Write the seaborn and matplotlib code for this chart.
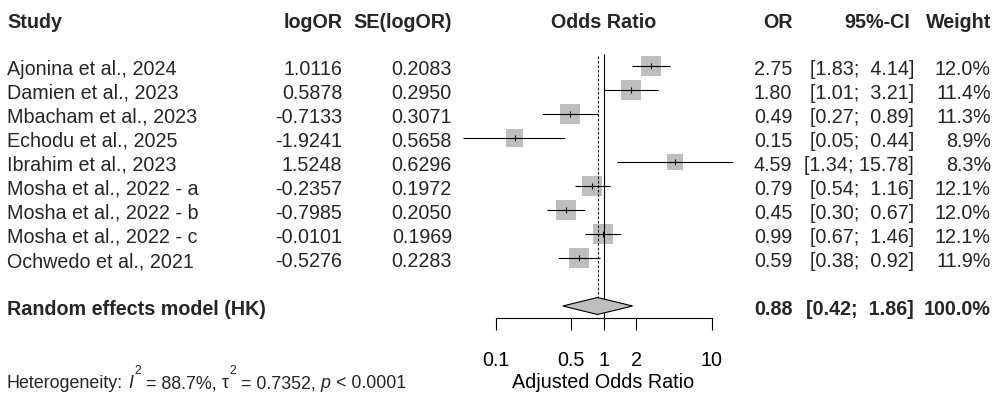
import numpy as np
import pandas as pd
import matplotlib
matplotlib.use("Agg")
import matplotlib.pyplot as plt
import seaborn as sns
from matplotlib.transforms import blended_transform_factory, IdentityTransform

# ---------------- data ----------------
studies = ["Ajonina et al., 2024", "Damien et al., 2023", "Mbacham et al., 2023",
           "Echodu et al., 2025", "Ibrahim et al., 2023", "Mosha et al., 2022 - a",
           "Mosha et al., 2022 - b", "Mosha et al., 2022 - c", "Ochwedo et al., 2021"]
log_or = [1.0116, 0.5878, -0.7133, -1.9241, 1.5248, -0.2357, -0.7985, -0.0101, -0.5276]
se_log_or = [0.2083, 0.2950, 0.3071, 0.5658, 0.6296, 0.1972, 0.2050, 0.1969, 0.2283]
odds_ratio = [2.75, 1.80, 0.49, 0.15, 4.59, 0.79, 0.45, 0.99, 0.59]
ci_low = [1.83, 1.01, 0.27, 0.05, 1.34, 0.54, 0.30, 0.67, 0.38]
ci_high = [4.14, 3.21, 0.89, 0.44, 15.78, 1.16, 0.67, 1.46, 0.92]
weights = [12.0, 11.4, 11.3, 8.9, 8.3, 12.1, 12.0, 12.1, 11.9]

summary_label = "Random effects model (HK)"
summary_or = 0.88
summary_low = 0.42
summary_high = 1.86
summary_weight = 100.0

headers = ["Study", "logOR", "SE(logOR)", "Odds Ratio", "OR", "95%-CI", "Weight"]
tick_values = [0.1, 0.5, 1, 2, 10]
tick_labels = ["0.1", "0.5", "1", "2", "10"]
x_label = "Adjusted Odds Ratio"
# heterogeneity statement pieces: (text, style)  style: n=normal, i=italic, s=superscript
het_pieces = [("Heterogeneity:", "n"), ("I", "i"), ("2", "s"), ("= 88.7%,", "n"),
              ("\u03c4", "n"), ("2", "s"), ("= 0.7352,", "n"), ("p", "i"), ("< 0.0001", "n")]

# ---------------- style ----------------
sns.set_style("white")
plt.rcParams['font.family'] = ['Liberation Sans', 'DejaVu Sans']

FS = 14.2
FS_HET = 12.9
FS_SUP = 8.7
GRAY = "#BEBEBE"
LW = 0.8

W, H = 998, 400
fig = plt.figure(figsize=(W / 100, H / 100), dpi=100)
ax = fig.add_axes([0, 0, 1, 1])

# x: log scale, 1 at pixel 603.5, 108 px per decade
one_px, px_dec = 603.5, 108.0
ax.set_xscale('log')
ax.set_xlim(10 ** (-one_px / px_dec), 10 ** ((W - one_px) / px_dec))
# y: row units, row 0 at pixel 66, 24 px per row
row0_px, row_h = 66.0, 24.0
ax.set_ylim((H - row0_px) / row_h, -row0_px / row_h)

n = len(studies)
rows = np.arange(n)
sum_row = n + 1
axis_row = sum_row + 0.5
base_off = 9.0 / row_h
header_row = (28.3 - row0_px) / row_h
bottom_row = (388.3 - row0_px) / row_h

df = pd.DataFrame({"study": studies, "or": odds_ratio, "lo": ci_low, "hi": ci_high,
                   "w": weights, "row": rows})

# squares (area proportional to weight)
k = (20 * 0.72) ** 2 / 12.0
sns.scatterplot(data=df, x="or", y="row", size="w",
                sizes=(k * min(weights), k * max(weights)),
                size_norm=(min(weights), max(weights)),
                marker="s", color=GRAY, linewidth=0, legend=False, ax=ax, zorder=2)
# confidence intervals
ax.hlines(df["row"], df["lo"], df["hi"], color="black", lw=LW, zorder=3)
ax.vlines(df["or"], df["row"] - 3.2 / row_h, df["row"] + 3.2 / row_h, color="black", lw=LW, zorder=3)

# reference lines
ax.vlines(1, -0.5, axis_row, color="black", lw=LW, zorder=3)
dh = 8.5 / row_h
ax.vlines(summary_or, -0.4, sum_row - dh, color="black", lw=LW, linestyles=(0, (2.4, 1.6)), zorder=3)

# summary diamond
ax.fill([summary_low, summary_or, summary_high, summary_or],
        [sum_row, sum_row - dh, sum_row, sum_row + dh],
        facecolor=GRAY, edgecolor="black", lw=LW, zorder=4)

# axis
for s in ["left", "right", "top"]:
    ax.spines[s].set_visible(False)
ax.spines["bottom"].set_position(("data", axis_row))
ax.spines["bottom"].set_bounds(tick_values[0], tick_values[-1])
ax.spines["bottom"].set_linewidth(LW)
ax.spines["bottom"].set_color("black")
ax.set_yticks([])
ax.set_xticks(tick_values)
ax.set_xticklabels(tick_labels)
ax.xaxis.set_minor_locator(matplotlib.ticker.NullLocator())
ax.tick_params(axis="x", direction="out", length=8.9, width=LW, pad=14.5,
               labelsize=FS, colors="black", bottom=True)
ax.set_xlabel(x_label, fontsize=FS, va="baseline", color="black")
ax.xaxis.set_label_coords(1.0, bottom_row, transform=ax.transData)
ax.set_ylabel("")

# text columns
tr = blended_transform_factory(ax.transAxes, ax.transData)
def px(x):
    return x / W

col_study, col_logor, col_se, col_or, col_ci, col_w, col_ci_head = 7, 342.3, 452, 792.3, 914, 991, 910

hdr = dict(fontsize=FS, fontweight="bold", va="baseline", transform=tr)
ax.text(px(col_study), header_row, headers[0], ha="left", **hdr)
ax.text(px(col_logor), header_row, headers[1], ha="right", **hdr)
ax.text(px(col_se), header_row, headers[2], ha="right", **hdr)
ax.text(1.0, header_row, headers[3], ha="center", fontsize=FS, fontweight="bold", va="baseline")
ax.text(px(col_or), header_row, headers[4], ha="right", **hdr)
ax.text(px(col_ci_head), header_row, headers[5], ha="right", **hdr)
ax.text(px(col_w), header_row, headers[6], ha="right", **hdr)

reg = dict(fontsize=FS, va="baseline", transform=tr)
for i in range(n):
    y = rows[i] + base_off
    ax.text(px(col_study), y, studies[i], ha="left", **reg)
    ax.text(px(col_logor), y, f"{log_or[i]:.4f}", ha="right", **reg)
    ax.text(px(col_se), y, f"{se_log_or[i]:.4f}", ha="right", **reg)
    ax.text(px(col_or), y, f"{odds_ratio[i]:.2f}", ha="right", **reg)
    ax.text(px(col_ci), y, f"[{ci_low[i]:.2f}; {ci_high[i]:5.2f}]", ha="right", **reg)
    ax.text(px(col_w), y, f"{weights[i]:.1f}%", ha="right", **reg)

ys = sum_row + base_off
ax.text(px(col_study), ys, summary_label, ha="left", **hdr)
ax.text(px(col_or), ys, f"{summary_or:.2f}", ha="right", **hdr)
ax.text(px(col_ci), ys, f"[{summary_low:.2f}; {summary_high:5.2f}]", ha="right", **hdr)
ax.text(px(col_w), ys, f"{summary_weight:.1f}%", ha="right", **hdr)

# heterogeneity statement, laid out piece by piece (R-style high superscripts)
renderer = fig.canvas.get_renderer()
tr_px = blended_transform_factory(IdentityTransform(), ax.transData)
space_px = 0.278 * FS_HET * 100 / 72
sup_raise = 14.0 / row_h
x_cur = col_study
for j, (txt, style) in enumerate(het_pieces):
    if style == "s":
        t = ax.text(x_cur, bottom_row - sup_raise, txt, fontsize=FS_SUP, ha="left",
                    va="baseline", transform=tr_px)
    else:
        t = ax.text(x_cur, bottom_row, txt, fontsize=FS_HET, ha="left", va="baseline",
                    fontstyle="italic" if style == "i" else "normal", transform=tr_px)
    wpx = t.get_window_extent(renderer).width
    nxt = het_pieces[j + 1][1] if j + 1 < len(het_pieces) else "n"
    gap = 1.0 if nxt == "s" else space_px
    x_cur += wpx + gap

fig.savefig("out.png", dpi=100, facecolor="white")
